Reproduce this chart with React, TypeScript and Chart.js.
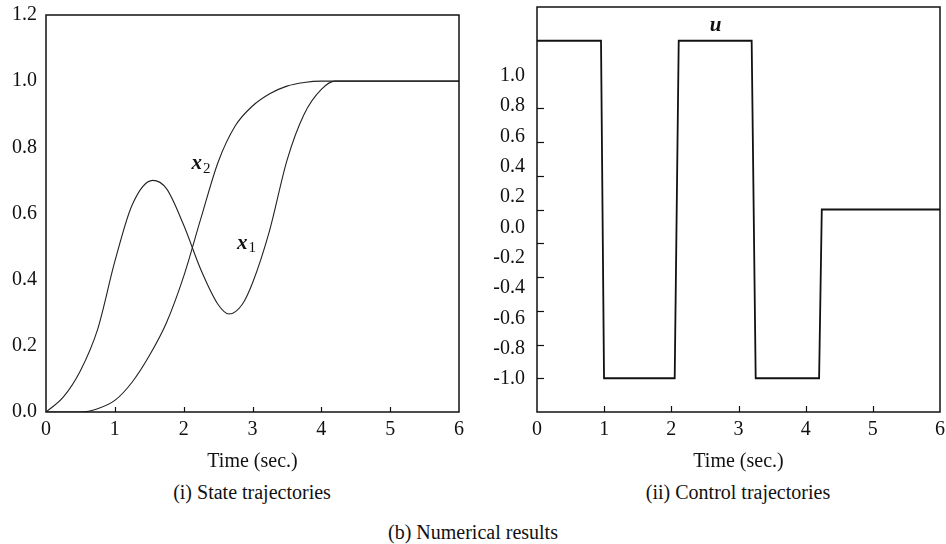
import React, { useEffect, useRef } from 'react';
import { Chart, registerables } from 'chart.js';

Chart.register(...registerables);

const FONT = '"Liberation Serif", "Times New Roman", serif';

// ---- Data: (i) state trajectories ----
const tX1 = [0, 0.25, 0.5, 0.75, 1.0, 1.25, 1.55, 1.75, 2.0, 2.25, 2.5, 2.66, 2.85, 3.0, 3.25, 3.5, 3.75, 4.0, 4.2, 4.6, 6];
const x1Values = [0, 0.045, 0.125, 0.25, 0.455, 0.625, 0.70, 0.675, 0.565, 0.43, 0.325, 0.296, 0.325, 0.39, 0.55, 0.76, 0.90, 0.975, 1.0, 1.0, 1.0];
const tX2 = [0, 0.5, 0.75, 1.0, 1.25, 1.5, 1.75, 2.0, 2.25, 2.5, 2.75, 3.0, 3.25, 3.5, 3.75, 4.0, 4.4, 6];
const x2Values = [0, 0, 0.01, 0.035, 0.09, 0.17, 0.27, 0.41, 0.585, 0.755, 0.865, 0.925, 0.962, 0.985, 0.996, 1.0, 1.0, 1.0];
const stateYTicks = [0, 0.2, 0.4, 0.6, 0.8, 1.0, 1.2];
const timeTicks = [0, 1, 2, 3, 4, 5, 6];
const innerTimeTicks = [1, 2, 3, 4, 5];

// ---- Data: (ii) control trajectory ----
const tU = [0, 0.953, 0.998, 2.05, 2.11, 3.196, 3.256, 4.2, 4.24, 6];
const uValues = [1, 1, -1, -1, 1, 1, -1, -1, 0, 0];
const uTickMarks = [-1.0, -0.8, -0.6, -0.4, -0.2, 0.0, 0.2, 0.4, 0.6];
const uTickLabels = [-1.0, -0.8, -0.6, -0.4, -0.2, 0.0, 0.2, 0.4, 0.6, 0.8, 1.0];

// ---- Text ----
const stateNotes = [
  { text: 'x', sub: '2', t: 2.19, v: 0.75 },
  { text: 'x', sub: '1', t: 2.85, v: 0.51 },
];
const controlNotes = [{ text: 'u', sub: '', t: 2.66, v: 1.09 }];
const xTitle = 'Time (sec.)';
const captionLeft = '(i) State trajectories';
const captionRight = '(ii) Control trajectories';
const captionMain = '(b) Numerical results';

const framePlugin = {
  id: 'frame',
  afterDatasetsDraw(chart: any, _args: any, opts: any) {
    const { ctx, chartArea: a } = chart;
    ctx.save();
    ctx.strokeStyle = '#111';
    ctx.lineWidth = opts.lineWidth || 1.5;
    ctx.strokeRect(a.left, a.top, a.right - a.left, a.bottom - a.top);
    ctx.lineWidth = 1.2;
    for (const tk of opts.ticks || []) {
      const sc = chart.scales[tk.axis];
      for (const v of tk.values) {
        const p = Math.round(sc.getPixelForValue(v)) + 0.5;
        ctx.beginPath();
        if (tk.horizontal) {
          ctx.moveTo(p, a.bottom);
          ctx.lineTo(p, a.bottom - tk.length);
        } else {
          ctx.moveTo(a.left, p);
          ctx.lineTo(a.left + tk.length, p);
        }
        ctx.stroke();
      }
    }
    ctx.restore();
  },
};

const notesPlugin = {
  id: 'notes',
  afterDatasetsDraw(chart: any, _args: any, opts: any) {
    const { ctx } = chart;
    const xs = chart.scales.x;
    const ys = chart.scales[opts.yAxis || 'y'];
    ctx.save();
    ctx.fillStyle = '#111';
    ctx.textBaseline = 'middle';
    for (const n of opts.items || []) {
      const px = xs.getPixelForValue(n.t);
      const py = ys.getPixelForValue(n.v);
      ctx.font = `italic bold 21px ${FONT}`;
      ctx.textAlign = 'center';
      ctx.fillText(n.text, px, py);
      if (n.sub) {
        const w = ctx.measureText(n.text).width;
        ctx.font = `15px ${FONT}`;
        ctx.textAlign = 'left';
        ctx.fillText(n.sub, px + w / 2 + 1, py + 5);
      }
    }
    ctx.restore();
  },
};

const tickFont = { family: FONT, size: 20 };

function xAxis(height: number) {
  return {
    type: 'linear',
    min: 0,
    max: 6,
    afterBuildTicks: (s: any) => { s.ticks = timeTicks.map((v) => ({ value: v })); },
    afterFit: (s: any) => { s.height = height; s.paddingLeft = 0; s.paddingRight = 0; },
    grid: { display: false, drawTicks: false },
    border: { display: false },
    ticks: { color: '#111', font: tickFont, padding: 6, maxRotation: 0, autoSkip: false },
    title: { display: true, text: xTitle, color: '#111', font: tickFont, padding: { top: 0, bottom: 6 } },
  };
}

function StateChart() {
  const ref = useRef<HTMLCanvasElement>(null);
  useEffect(() => {
    const chart = new Chart(ref.current!, {
      type: 'line',
      data: {
        datasets: [
          { label: 'x1', data: tX1.map((t, i) => ({ x: t, y: x1Values[i] })), borderColor: '#222', borderWidth: 1.1, pointRadius: 0, cubicInterpolationMode: 'monotone', fill: false },
          { label: 'x2', data: tX2.map((t, i) => ({ x: t, y: x2Values[i] })), borderColor: '#222', borderWidth: 1.1, pointRadius: 0, cubicInterpolationMode: 'monotone', fill: false },
        ],
      },
      options: {
        animation: false,
        responsive: false,
        layout: { padding: { top: 15, right: 11, left: 0, bottom: 0 } },
        plugins: {
          legend: { display: false },
          tooltip: { enabled: false },
          frame: { lineWidth: 1.5, ticks: [{ axis: 'x', horizontal: true, values: innerTimeTicks, length: 5 }] },
          notes: { items: stateNotes },
        } as any,
        scales: {
          x: xAxis(68),
          y: {
            type: 'linear',
            min: 0,
            max: 1.2,
            afterBuildTicks: (s: any) => { s.ticks = stateYTicks.map((v) => ({ value: v })); },
            afterFit: (s: any) => { s.width = 46; s.paddingTop = 0; s.paddingBottom = 0; },
            grid: { display: false, drawTicks: false },
            border: { display: false },
            ticks: { color: '#111', font: tickFont, padding: 9, callback: (v: any) => Number(v).toFixed(1) },
          },
        } as any,
      },
      plugins: [framePlugin, notesPlugin],
    } as any);
    return () => chart.destroy();
  }, []);
  return <canvas ref={ref} width={470} height={480} style={{ position: 'absolute', left: 0, top: 0 }} />;
}

function ControlChart() {
  const ref = useRef<HTMLCanvasElement>(null);
  useEffect(() => {
    const chart = new Chart(ref.current!, {
      type: 'line',
      data: {
        datasets: [
          { label: 'u', data: tU.map((t, i) => ({ x: t, y: uValues[i] })), borderColor: '#111', borderWidth: 1.8, pointRadius: 0, tension: 0, fill: false },
        ],
      },
      options: {
        animation: false,
        responsive: false,
        layout: { padding: { top: 7, right: 6, left: 0, bottom: 0 } },
        plugins: {
          legend: { display: false },
          tooltip: { enabled: false },
          frame: {
            lineWidth: 1.5,
            ticks: [
              { axis: 'x', horizontal: true, values: innerTimeTicks, length: 6 },
              { axis: 'y', horizontal: false, values: uTickMarks, length: 7 },
            ],
          },
          notes: { items: controlNotes, yAxis: 'y' },
        } as any,
        scales: {
          x: xAxis(68),
          y: {
            type: 'linear',
            display: false,
            min: -1.2,
            max: 1.2,
          },
          yl: {
            type: 'linear',
            position: 'left',
            min: -1.218,
            max: 1.455,
            afterBuildTicks: (s: any) => { s.ticks = uTickLabels.map((v) => ({ value: v })); },
            afterFit: (s: any) => { s.width = 57; s.paddingTop = 0; s.paddingBottom = 0; },
            grid: { display: false, drawTicks: false },
            border: { display: false },
            ticks: { color: '#111', font: tickFont, padding: 12, callback: (v: any) => Number(v).toFixed(1) },
          },
        } as any,
      },
      plugins: [framePlugin, notesPlugin],
    } as any);
    return () => chart.destroy();
  }, []);
  return <canvas ref={ref} width={466} height={480} style={{ position: 'absolute', left: 480, top: 0 }} />;
}

const captionStyle: React.CSSProperties = {
  position: 'absolute',
  fontFamily: FONT,
  fontSize: 20,
  lineHeight: '24px',
  color: '#111',
  textAlign: 'center',
  whiteSpace: 'nowrap',
};

export default function App() {
  return (
    <div style={{ position: 'absolute', left: 0, top: 0, width: 946, height: 544, background: '#fff', overflow: 'hidden' }}>
      <StateChart />
      <ControlChart />
      <div style={{ ...captionStyle, left: 52, width: 400, top: 480 }}>{captionLeft}</div>
      <div style={{ ...captionStyle, left: 538, width: 400, top: 480 }}>{captionRight}</div>
      <div style={{ ...captionStyle, left: 273, width: 400, top: 520 }}>{captionMain}</div>
    </div>
  );
}
